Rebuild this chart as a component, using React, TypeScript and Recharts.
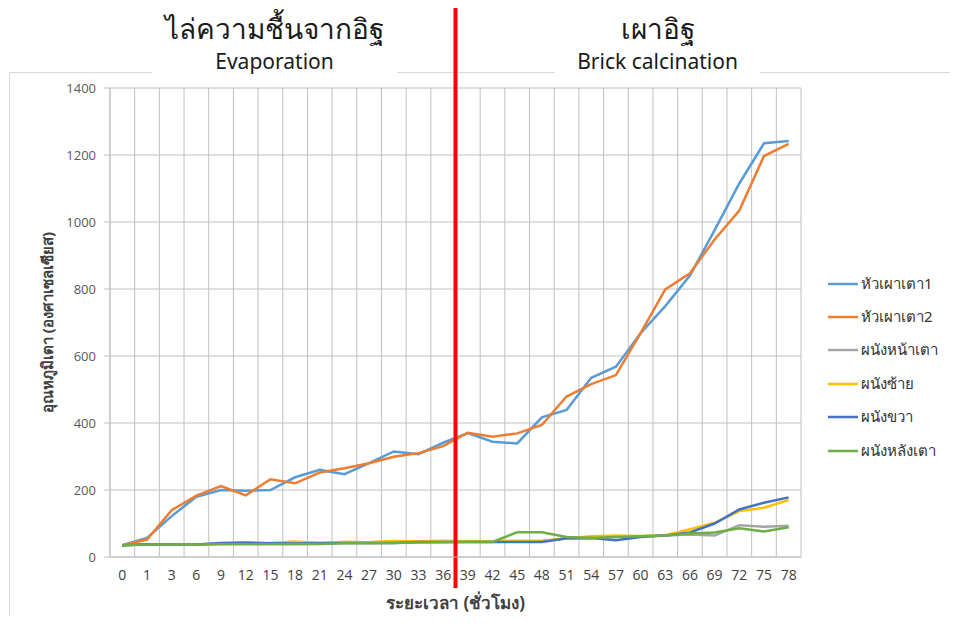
import { LineChart, Line, XAxis, YAxis, CartesianGrid, ReferenceLine, Legend } from 'recharts';

// hours since start of firing
const hours = ['0', '1', '3', '6', '9', '12', '15', '18', '21', '24', '27', '30', '33', '36',
  '39', '42', '45', '48', '51', '54', '57', '60', '63', '66', '69', '72', '75', '78'];

const burner1 = [35, 57, 122, 180, 200, 198, 200, 238, 260, 247, 280, 315, 307, 341,
  370, 344, 339, 417, 439, 535, 568, 668, 749, 840, 976, 1115, 1235, 1242];
const burner2 = [35, 52, 140, 183, 212, 184, 232, 220, 252, 265, 280, 299, 310, 331,
  371, 359, 369, 394, 479, 516, 543, 668, 799, 847, 948, 1034, 1197, 1233];
const frontWall = [35, 38, 38, 37, 40, 41, 40, 44, 42, 45, 44, 46, 47, 48,
  47, 47, 48, 48, 55, 57, 61, 62, 64, 67, 64, 95, 90, 93];
const leftWall = [35, 38, 38, 37, 39, 40, 42, 46, 42, 45, 44, 48, 47, 48,
  47, 47, 48, 48, 56, 62, 64, 63, 65, 83, 102, 137, 147, 170];
const rightWall = [35, 38, 37, 37, 42, 43, 41, 40, 41, 42, 42, 42, 45, 45,
  45, 45, 45, 45, 56, 57, 50, 60, 64, 73, 100, 142, 162, 178];
const backWall = [35, 37, 37, 37, 38, 38, 38, 38, 39, 41, 41, 42, 43, 44,
  45, 45, 74, 74, 60, 57, 60, 62, 64, 70, 73, 86, 76, 89];

const seriesKeys = ['burner1', 'burner2', 'frontWall', 'leftWall', 'rightWall', 'backWall'];
const seriesNames = ['หัวเผาเตา1', 'หัวเผาเตา2', 'ผนังหน้าเตา', 'ผนังซ้าย', 'ผนังขวา', 'ผนังหลังเตา'];
const seriesColors = ['#5B9BD5', '#ED7D31', '#A5A5A5', '#FFC000', '#4472C4', '#70AD47'];
const seriesValues = [burner1, burner2, frontWall, leftWall, rightWall, backWall];

const yTicks = [0, 200, 400, 600, 800, 1000, 1200, 1400];
const phaseSplitAfter = '36';

// each reading sits in the middle of its category band (Excel style)
const chartData = hours.map((hour, i) => {
  const row: Record<string, string | number> = { hour, slot: i + 0.5 };
  seriesKeys.forEach((k, s) => { row[k] = seriesValues[s][i]; });
  return row;
});
const slotCenters = hours.map((_, i) => i + 0.5);
const bandEdges = Array.from({ length: hours.length + 1 }, (_, i) => i);
const splitEdge = hours.indexOf(phaseSplitAfter) + 1;

const thaiFont = '"Noto Sans", "Open Sans", sans-serif';
const grid = '#c0c0c0';

function PhaseLine(props: any) {
  const top = Math.min(props.y1, props.y2);
  const bottom = Math.max(props.y1, props.y2);
  return <line x1={props.x1} x2={props.x2} y1={top - 80} y2={bottom + 31} stroke="#ff0000" strokeWidth={4} />;
}

function SideLegend() {
  return (
    <div style={{ fontFamily: thaiFont, fontSize: 15, color: '#333' }}>
      {seriesNames.map((name, s) => (
        <div key={name} style={{ display: 'flex', alignItems: 'center', height: 33.4 }}>
          <svg width={32} height={10}><line x1={1} x2={31} y1={5} y2={5} stroke={seriesColors[s]} strokeWidth={2.5} /></svg>
          <span style={{ marginLeft: 2 }}>{name}</span>
        </div>
      ))}
    </div>
  );
}

function bandGrid({ xAxis, offset }: any) {
  if (xAxis && typeof xAxis.scale === 'function') return bandEdges.map((e) => xAxis.scale(e));
  return bandEdges.map((e) => offset.left + (e / hours.length) * offset.width);
}

const titleBox = (left: number, width: number): React.CSSProperties => ({
  position: 'absolute', left, top: 6, width, height: 72, background: '#fff',
  textAlign: 'center', fontFamily: thaiFont, color: '#1a1a1a',
});

export default function App() {
  return (
    <div style={{ position: 'relative', width: 958, height: 624, margin: -8, overflow: 'hidden', background: '#fff' }}>
      <div style={{ position: 'absolute', left: 9, top: 72, width: 980, height: 600, border: '1px solid #d9d9d9' }} />
      <div style={{ position: 'absolute', left: 0, top: 0 }}>
        <LineChart width={958} height={624} data={chartData}
          margin={{ top: 88, right: 157, left: 10, bottom: 0 }}>
          <CartesianGrid stroke={grid} strokeWidth={1} verticalCoordinatesGenerator={bandGrid} />
          <XAxis dataKey="slot" type="number" domain={[0, hours.length]} ticks={slotCenters} interval={0}
            height={67} axisLine={{ stroke: grid }} tickLine={false} tickSize={0} tickMargin={13}
            tickFormatter={(v: number) => hours[Math.floor(v)]}
            tick={{ fontSize: 14, fill: '#404040', fontFamily: '"Open Sans", sans-serif' }}
            label={{ value: 'ระยะเวลา (ชั่วโมง)', position: 'insideBottom', offset: 15,
              style: { fontSize: 17, fontWeight: 'bold', fill: '#404040', fontFamily: thaiFont } }} />
          <YAxis domain={[0, 1400]} ticks={yTicks} width={100} interval={0}
            axisLine={{ stroke: grid }} tickLine={{ stroke: grid }} tickSize={6} tickMargin={8}
            tick={{ fontSize: 13, fill: '#595959', fontFamily: '"Open Sans", sans-serif' }}
            label={{ value: 'อุณหภูมิเตา (องศาเซลเซียส)', angle: -90, position: 'insideLeft', offset: 38,
              style: { textAnchor: 'middle', fontSize: 15, fontWeight: 'bold', fill: '#404040', fontFamily: thaiFont } }} />
          {seriesKeys.map((k, s) => (
            <Line key={k} type="linear" dataKey={k} name={seriesNames[s]} stroke={seriesColors[s]}
              strokeWidth={2.5} dot={false} isAnimationActive={false} />
          ))}
          <ReferenceLine x={splitEdge} shape={PhaseLine} />
          <Legend layout="vertical" align="center" verticalAlign="middle" content={SideLegend}
            wrapperStyle={{ position: 'absolute', left: 827, top: 267, width: 131 }} />
        </LineChart>
      </div>
      <div style={titleBox(152, 245)}>
        <div style={{ fontSize: 28, lineHeight: '36px', marginTop: 4 }}>ไล่ความชื้นจากอิฐ</div>
        <div style={{ fontSize: 21, lineHeight: '26px', marginTop: 2 }}>Evaporation</div>
      </div>
      <div style={titleBox(555, 205)}>
        <div style={{ fontSize: 28, lineHeight: '36px', marginTop: 4 }}>เผาอิฐ</div>
        <div style={{ fontSize: 21, lineHeight: '26px', marginTop: 2 }}>Brick calcination</div>
      </div>
    </div>
  );
}
